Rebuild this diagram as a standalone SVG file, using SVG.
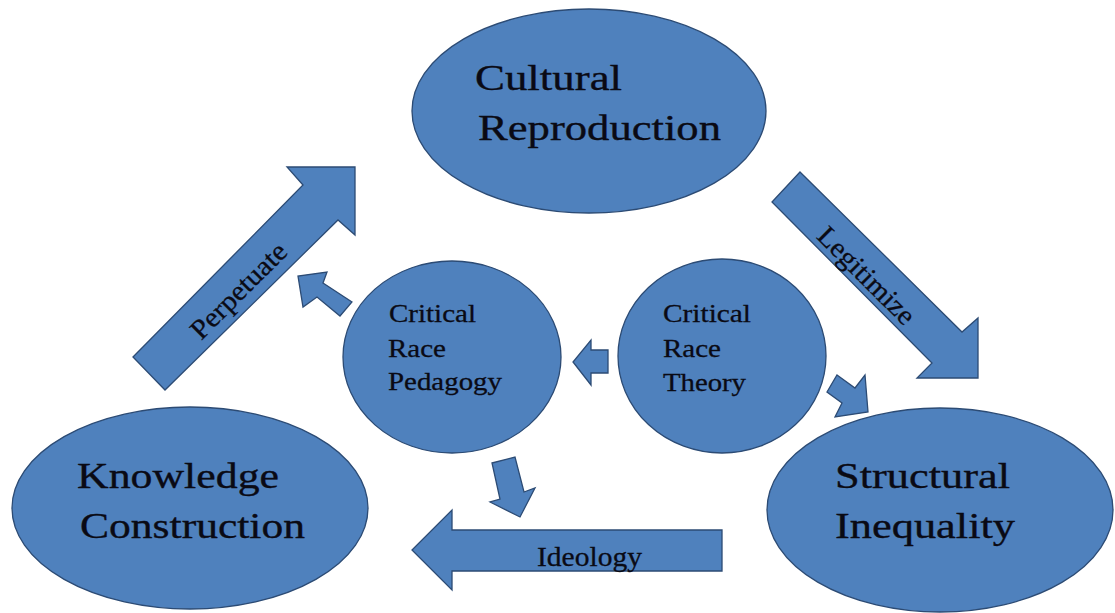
<svg xmlns="http://www.w3.org/2000/svg" width="1115" height="613" viewBox="0 0 1115 613">
  <style>
    .shape { fill: #4F81BD; stroke: #2C4B74; stroke-width: 1.3; stroke-linejoin: miter; }
    .big { font-family: "Liberation Serif", "Times New Roman", serif; font-size: 36px; fill: #0a0a14; stroke: #0a0a14; stroke-width: 0.35; }
    .small { font-family: "Liberation Serif", "Times New Roman", serif; font-size: 26px; fill: #0a0a14; stroke: #0a0a14; stroke-width: 0.3; }
    .lbl { font-family: "Liberation Serif", "Times New Roman", serif; font-size: 28px; fill: #0a0a14; stroke: #0a0a14; stroke-width: 0.3; }
  </style>
  <rect width="1115" height="613" fill="#ffffff"/>

  <!-- nodes -->
  <g id="cultural-reproduction">
    <ellipse class="shape" cx="589" cy="111" rx="177" ry="102"/>
    <text class="big" x="475" y="90" textLength="147" lengthAdjust="spacingAndGlyphs">Cultural</text>
    <text class="big" x="478" y="140" textLength="243" lengthAdjust="spacingAndGlyphs">Reproduction</text>
  </g>

  <g id="knowledge-construction">
    <ellipse class="shape" cx="190" cy="508" rx="178" ry="101"/>
    <text class="big" x="77" y="488" textLength="202" lengthAdjust="spacingAndGlyphs">Knowledge</text>
    <text class="big" x="80" y="538" textLength="225" lengthAdjust="spacingAndGlyphs">Construction</text>
  </g>

  <g id="structural-inequality">
    <ellipse class="shape" cx="940" cy="510" rx="173" ry="102"/>
    <text class="big" x="835" y="488" textLength="175" lengthAdjust="spacingAndGlyphs">Structural</text>
    <text class="big" x="835" y="538" textLength="180" lengthAdjust="spacingAndGlyphs">Inequality</text>
  </g>

  <g id="critical-race-pedagogy">
    <ellipse class="shape" cx="452" cy="357" rx="109" ry="96"/>
    <text class="small" x="389" y="322" textLength="87" lengthAdjust="spacingAndGlyphs">Critical</text>
    <text class="small" x="388" y="357" textLength="58" lengthAdjust="spacingAndGlyphs">Race</text>
    <text class="small" x="388" y="390" textLength="114" lengthAdjust="spacingAndGlyphs">Pedagogy</text>
  </g>

  <g id="critical-race-theory">
    <ellipse class="shape" cx="722" cy="356" rx="104" ry="97"/>
    <text class="small" x="663" y="322" textLength="88" lengthAdjust="spacingAndGlyphs">Critical</text>
    <text class="small" x="663" y="357" textLength="58" lengthAdjust="spacingAndGlyphs">Race</text>
    <text class="small" x="663" y="391" textLength="83" lengthAdjust="spacingAndGlyphs">Theory</text>
  </g>

  <!-- connectors: block arrows -->
  <g id="connectors">
    <!-- Knowledge Construction -> Cultural Reproduction -->
    <polygon class="shape" points="133,357 303,185 287,167 355,167 355,235 338,220 165,390"/>
    <text class="lbl" transform="translate(238,290) rotate(-45)" x="0" y="10" text-anchor="middle" textLength="124" lengthAdjust="spacingAndGlyphs">Perpetuate</text>

    <!-- Cultural Reproduction -> Structural Inequality -->
    <polygon class="shape" points="800,172 962,332 978,318 978,378 917,378 932,363 772,202"/>
    <text class="lbl" transform="translate(867,275) rotate(45)" x="0" y="10" text-anchor="middle" textLength="126" lengthAdjust="spacingAndGlyphs">Legitimize</text>

    <!-- Structural Inequality -> Knowledge Construction -->
    <polygon class="shape" points="722,530 452,530 452,510 412,550 452,590 452,571 722,571"/>
    <text class="lbl" x="537" y="566" textLength="105" lengthAdjust="spacingAndGlyphs">Ideology</text>

    <!-- Critical Race Theory -> Critical Race Pedagogy -->
    <polygon class="shape" points="608,350 591,350 591,340 573,362 591,385 591,373 608,373"/>

    <!-- Critical Race Theory -> Structural Inequality -->
    <polygon class="shape" points="837,375 855,388 865,375 868,412 835,417 842,403 827,392"/>

    <!-- Critical Race Pedagogy -> Perpetuate arrow -->
    <polygon class="shape" points="352,302 323,283 327,272 298,276 303,307 317,297 340,316"/>

    <!-- Critical Race Pedagogy -> Ideology arrow -->
    <polygon class="shape" points="492,463 515,457 524,492 535,488 520,517 490,502 500,499"/>
  </g>
</svg>
